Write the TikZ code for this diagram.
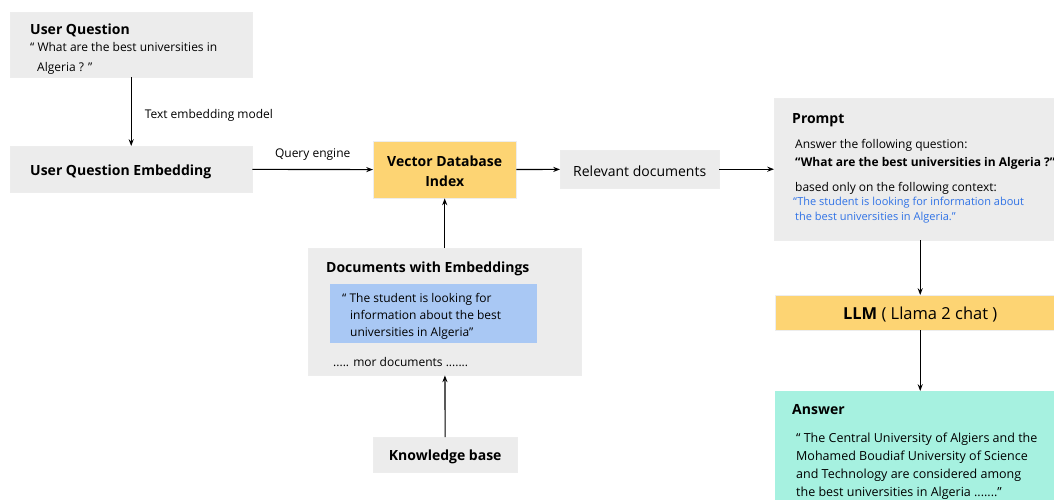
\documentclass[tikz,border=0pt]{standalone}
\usepackage{fontspec}
\setmainfont{Open Sans}
\usetikzlibrary{positioning}
\usetikzlibrary{arrows.meta}

\definecolor{boxgray}{HTML}{ECECEC}
\definecolor{dbyellow}{HTML}{FDD473}
\definecolor{docblue}{HTML}{A9C8F4}
\definecolor{answergreen}{HTML}{A6F1E0}
\definecolor{contextblue}{HTML}{2F72E6}

\begin{document}
\begin{tikzpicture}[%
  >={Stealth[scale=0.85]},
  x=1pt, y=-1pt,
  box/.style={draw=black!7, fill=boxgray, inner sep=0pt, anchor=north west},
  boxtitle/.style={font=\bfseries\fontsize{14}{17}\selectfont, anchor=west, inner sep=0pt, yshift=-2pt},
  boxtext/.style={font=\fontsize{12}{18}\selectfont, anchor=west, inner sep=0pt, align=left, yshift=-2pt},
  edgelabel/.style={font=\fontsize{12}{14}\selectfont, anchor=west, inner sep=0pt},
  link/.style={->, line width=1.1pt}
]

  \useasboundingbox (0,0) rectangle (1054,500);

  % boxes
  \node[box, minimum width=242, minimum height=65] (question) at (10,12) {};
  \node[box, minimum width=242, minimum height=46] (embedding) at (10,146) {};
  \node[box, fill=dbyellow, minimum width=143, minimum height=57] (vectordb) at (373,141) {};
  \node[box, minimum width=159, minimum height=38] (relevant) at (560,150) {};
  \node[box, minimum width=292, minimum height=142] (prompt) at (774,98) {};
  \node[box, fill=dbyellow, minimum width=290, minimum height=35] (llm) at (775,295) {};
  \node[box, fill=answergreen, draw=none, minimum width=290, minimum height=120] (answer) at (775,391) {};
  \node[box, minimum width=273, minimum height=127] (documents) at (308,248) {};
  \node[box, fill=docblue, draw=none, minimum width=207, minimum height=59] (chunk) at (330,284) {};
  \node[box, minimum width=144, minimum height=35] (knowledge) at (373,437) {};

  % texts
  \node[boxtitle] (questiontitle) at (30,28) {User Question};
  \node[boxtext, font=\fontsize{12}{20}\selectfont] (questiontext) at (30,56)
    {“ What are the best universities in\\\hspace{7pt}Algeria ? ”};
  \node[boxtitle] (embeddingtitle) at (30,170) {User Question Embedding};
  \node[boxtitle, font=\bfseries\fontsize{14}{20}\selectfont, anchor=center, align=center] (vectordbtitle) at (vectordb.center)
    {Vector Database\\Index};
  \node[boxtext, font=\fontsize{14}{17}\selectfont, anchor=center] (relevanttext) at (relevant.center)
    {Relevant documents};

  \node[boxtitle] (prompttitle) at (792,118) {Prompt};
  \node[boxtext] (promptask) at (795,143) {Answer the following question:};
  \node[boxtext, font=\bfseries\fontsize{12}{18}\selectfont] (promptquestion) at (795,161)
    {“What are the best universities in Algeria ?”};
  \node[boxtext] (promptbased) at (795,186) {based only on the following context:};
  \node[boxtext, font=\fontsize{11}{15}\selectfont, text=contextblue] (promptcontext) at (793,208.5)
    {“The student is looking for information about\\\hspace{2pt}the best universities in Algeria.”};

  \node[boxtext, anchor=center, font=\fontsize{16.5}{20}\selectfont] (llmtext) at (llm.center)
    {\textbf{LLM} ( Llama 2 chat )};

  \node[boxtitle] (answertitle) at (792,408) {Answer};
  \node[boxtext, font=\fontsize{12.5}{18}\selectfont] (answertext) at (796,464)
    {“ The Central University of Algiers and the\\Mohamed Boudiaf University of Science\\and Technology are considered among\\the best universities in Algeria .......”};

  \node[boxtitle] (documentstitle) at (326,267) {Documents with Embeddings};
  \node[boxtext, font=\fontsize{12}{17}\selectfont] (chunktext) at (342,314)
    {“ The student is looking for\\\hspace{8pt}information about the best\\\hspace{8pt}universities in Algeria”};
  \node[boxtext] (moretext) at (333,360) {..... mor documents .......};

  \node[boxtitle, anchor=center] (knowledgetitle) at (knowledge.center) {Knowledge base};

  % connectors
  \draw[link] (question) -- (embedding)
    node[edgelabel, pos=0.52, right=13pt, yshift=-2pt] (textmodel) {Text embedding model};
  \draw[link] (embedding) -- (vectordb)
    node[edgelabel, anchor=south, midway, above=9pt] (queryengine) {Query engine};
  \draw[link] (vectordb) -- (relevant);
  \draw[link] (relevant) -- (prompt);
  \draw[link] (prompt.south -| llm.north) -- (llm);
  \draw[link] (llm) -- (answer);
  \draw[link] (documents) -- (vectordb);
  \draw[link] (knowledge) -- (documents);

\end{tikzpicture}
\end{document}
